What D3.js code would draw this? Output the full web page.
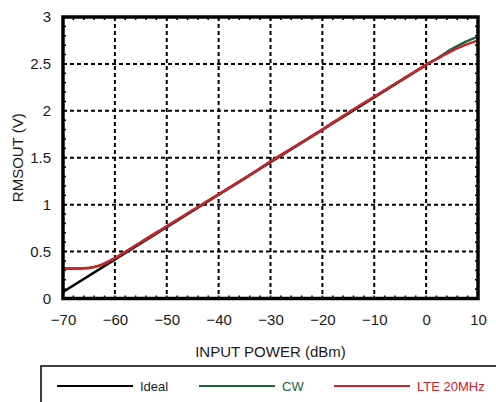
<!DOCTYPE html>
<html><head><meta charset="utf-8">
<script src="https://cdn.jsdelivr.net/npm/d3@7/dist/d3.min.js"></script>
<style>body{margin:0;background:#fff;}svg{display:block;font-family:"Liberation Sans",Arial,sans-serif;}</style>
</head><body><svg id="c" width="496" height="402"></svg>
<script>
const xTicks = [-70,-60,-50,-40,-30,-20,-10,0,10];
const yTicks = [0,0.5,1,1.5,2,2.5,3];
const idealP = [-70, 0];
const idealV = [0.07, 2.49];
const power = [-70,-67,-65,-63,-60,-57,-55,-50,-45,-40,-35,-30,-25,-20,-15,-10,-5,0,3,5,7,10];
const cwV   = [0.32,0.32,0.325,0.35,0.43,0.53,0.60,0.77,0.94,1.11,1.28,1.46,1.63,1.80,1.98,2.15,2.32,2.49,2.59,2.66,2.72,2.79];
const lteV  = [0.32,0.32,0.325,0.35,0.43,0.53,0.60,0.77,0.94,1.11,1.28,1.46,1.63,1.80,1.98,2.15,2.32,2.49,2.58,2.64,2.69,2.75];
const seriesNames = ["Ideal","CW","LTE 20MHz"];
const colors = ["#000000","#1b6636","#cc2229"];

const svg = d3.select("#c");
const L=63, R=478, T=17, B=298.5;
const x = d3.scaleLinear().domain([-70,10]).range([L,R]);
const y = d3.scaleLinear().domain([0,3]).range([B,T]);

// grid
const g = svg.append("g");
g.selectAll(".vg").data(xTicks.slice(1,-1)).enter().append("line")
 .attr("x1",d=>x(d)).attr("x2",d=>x(d)).attr("y1",T).attr("y2",B)
 .attr("stroke","#000").attr("stroke-width",2).attr("stroke-dasharray","4,3");
g.selectAll(".hg").data(yTicks.slice(1,-1)).enter().append("line")
 .attr("y1",d=>y(d)).attr("y2",d=>y(d)).attr("x1",L).attr("x2",R)
 .attr("stroke","#000").attr("stroke-width",2).attr("stroke-dasharray","4,3");

// minor ticks
const xMinor = d3.range(-70,10.01,2);
const yMinor = d3.range(0,3.001,0.1);
[[B,-3],[T,3]].forEach(([yy,dl])=>{
  g.selectAll(null).data(xMinor).enter().append("line")
   .attr("x1",d=>x(d)).attr("x2",d=>x(d)).attr("y1",yy).attr("y2",yy+dl)
   .attr("stroke","#000").attr("stroke-width",1.5);
});
[[L,3],[R,-3]].forEach(([xx,dl])=>{
  g.selectAll(null).data(yMinor).enter().append("line")
   .attr("y1",d=>y(d)).attr("y2",d=>y(d)).attr("x1",xx).attr("x2",xx+dl)
   .attr("stroke","#000").attr("stroke-width",1.5);
});

// lines
const line = d3.line().x(d=>x(d[0])).y(d=>y(d[1]));
const data = [
  d3.zip(idealP, idealV),
  d3.zip(power, cwV),
  d3.zip(power, lteV)
];
svg.append("defs").append("clipPath").attr("id","clp").append("rect")
 .attr("x",L).attr("y",T).attr("width",R-L).attr("height",B-T);
data.forEach((d,i)=>{
  svg.append("path").datum(d).attr("d",line.curve(i===0?d3.curveLinear:d3.curveMonotoneX))
   .attr("fill","none").attr("stroke",colors[i]).attr("stroke-width",2.5)
   .attr("clip-path","url(#clp)");
});

// frame
svg.append("rect").attr("x",L).attr("y",T).attr("width",R-L).attr("height",B-T)
 .attr("fill","none").attr("stroke","#000").attr("stroke-width",3.5);

// axes labels
const xa = svg.append("g").attr("transform",`translate(0,${B})`)
 .call(d3.axisBottom(x).tickValues(xTicks).tickSize(0).tickPadding(16));
xa.select(".domain").remove();
xa.selectAll("text").attr("font-size",15).attr("fill","#1a1a1a").attr("font-family","Liberation Sans, Arial, sans-serif");
const ya = svg.append("g").attr("transform",`translate(${L},0)`)
 .call(d3.axisLeft(y).tickValues(yTicks).tickFormat(d3.format("")).tickSize(0).tickPadding(12));
ya.select(".domain").remove();
ya.selectAll("text").attr("font-size",15).attr("fill","#1a1a1a").attr("font-family","Liberation Sans, Arial, sans-serif");

svg.append("text").attr("x",(L+R)/2).attr("y",357).attr("text-anchor","middle")
 .attr("font-size",15).attr("fill","#1a1a1a").text("INPUT POWER (dBm)");
svg.append("text").attr("transform",`translate(23,${(T+B)/2}) rotate(-90)`).attr("text-anchor","middle")
 .attr("font-size",15).attr("fill","#1a1a1a").text("RMSOUT (V)");

// legend
svg.append("rect").attr("x",41).attr("y",366).attr("width",470).attr("height",50)
 .attr("fill","none").attr("stroke","#000").attr("stroke-width",1.5);
const lx = [57,199,334];
seriesNames.forEach((n,i)=>{
  svg.append("line").attr("x1",lx[i]).attr("x2",lx[i]+76).attr("y1",386).attr("y2",386)
   .attr("stroke",colors[i]).attr("stroke-width",2);
  svg.append("text").attr("x",lx[i]+83).attr("y",390.5).attr("font-size",13)
   .attr("fill",i===0?"#1a1a1a":colors[i]).text(n);
});
</script></body></html>
